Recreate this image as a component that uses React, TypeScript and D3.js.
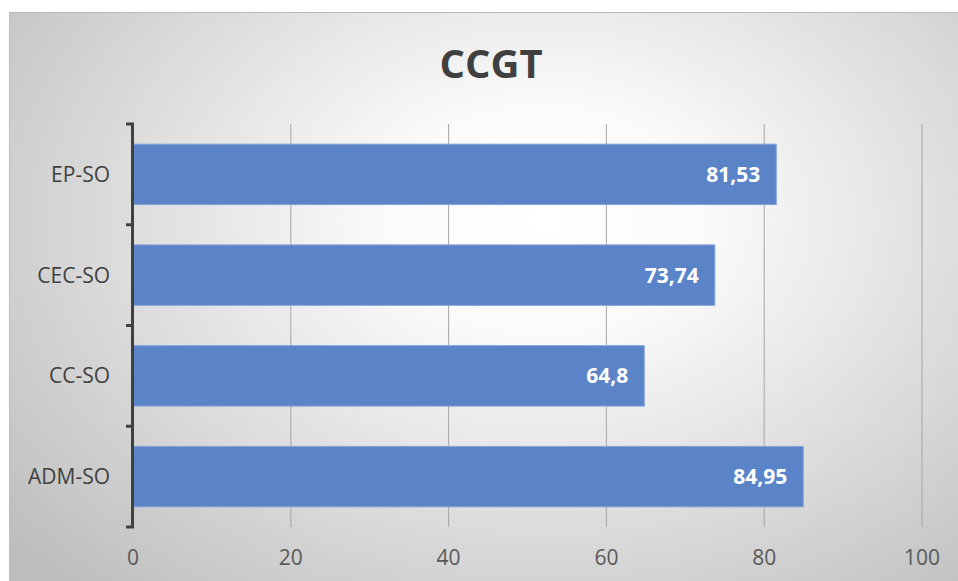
import React from "react";
import * as d3 from "d3";

const categories = ["EP-SO", "CEC-SO", "CC-SO", "ADM-SO"];
const values = [81.53, 73.74, 64.8, 84.95];
const labels = ["81,53", "73,74", "64,8", "84,95"];
const xTicks = [0, 20, 40, 60, 80, 100];
const title = "CCGT";

const W = 958;
const H = 581;
const plot = { left: 133, right: 922, top: 124, bottom: 527 };
const FONT = "'Open Sans', 'DejaVu Sans', sans-serif";

export default function App() {
  const x = d3.scaleLinear().domain([0, 100]).range([plot.left, plot.right]);
  const y = d3
    .scaleBand<string>()
    .domain(categories)
    .range([plot.top, plot.bottom])
    .paddingInner(0.4)
    .paddingOuter(0.2);
  const boundaries = d3.range(categories.length + 1).map(
    (i) => plot.top + (i * (plot.bottom - plot.top)) / categories.length
  );

  return (
    <svg
      width={W}
      height={H}
      style={{ position: "absolute", left: 0, top: 0, background: "#fff" }}
    >
      <defs>
        <radialGradient
          id="bg"
          gradientUnits="userSpaceOnUse"
          cx={545}
          cy={220}
          r={700}
          gradientTransform="translate(545 220) scale(1 0.72) translate(-545 -220)"
        >
          <stop offset="0" stopColor="#ffffff" />
          <stop offset="0.22" stopColor="#fbfbfb" />
          <stop offset="1" stopColor="#bdbdbd" />
        </radialGradient>
      </defs>
      <rect x={9} y={12} width={W - 9} height={H - 12} fill="url(#bg)" />
      <line x1={9} x2={W} y1={12.5} y2={12.5} stroke="#b8b8b8" />
      <line x1={9.5} x2={9.5} y1={12} y2={H} stroke="#bcbcbc" />

      <text
        x={491}
        y={78}
        textAnchor="middle"
        fontFamily={FONT}
        fontWeight="bold"
        fontSize={40}
        fill="#404040"
      >
        {title}
      </text>

      {xTicks.map((t) => (
        <g key={t}>
          {t > 0 && (
            <line
              x1={x(t)}
              x2={x(t)}
              y1={plot.top}
              y2={plot.bottom}
              stroke="#a6a6a6"
              strokeWidth={1}
            />
          )}
          <text
            x={x(t)}
            y={565}
            textAnchor="middle"
            fontFamily={FONT}
            fontSize={21}
            fill="#595959"
          >
            {t}
          </text>
        </g>
      ))}

      {categories.map((c, i) => (
        <g key={c}>
          <rect
            x={x(0)}
            y={y(c)}
            width={x(values[i]) - x(0)}
            height={y.bandwidth()}
            fill="#5a83c8"
            stroke="#86a4da"
            strokeWidth={1}
          />
          <text
            x={x(values[i]) - 16}
            y={(y(c) as number) + y.bandwidth() / 2}
            dy="0.36em"
            textAnchor="end"
            fontFamily={FONT}
            fontWeight="bold"
            fontSize={21}
            fill="#ffffff"
          >
            {labels[i]}
          </text>
          <text
            x={110}
            y={(y(c) as number) + y.bandwidth() / 2}
            dy="0.36em"
            textAnchor="end"
            fontFamily={FONT}
            fontSize={21}
            fill="#404040"
          >
            {c}
          </text>
        </g>
      ))}

      <line
        x1={132.5}
        x2={132.5}
        y1={plot.top - 1}
        y2={plot.bottom + 1}
        stroke="#404040"
        strokeWidth={3}
      />
      {boundaries.map((b, i) => (
        <line
          key={i}
          x1={126}
          x2={134}
          y1={b}
          y2={b}
          stroke="#404040"
          strokeWidth={3}
        />
      ))}
    </svg>
  );
}
